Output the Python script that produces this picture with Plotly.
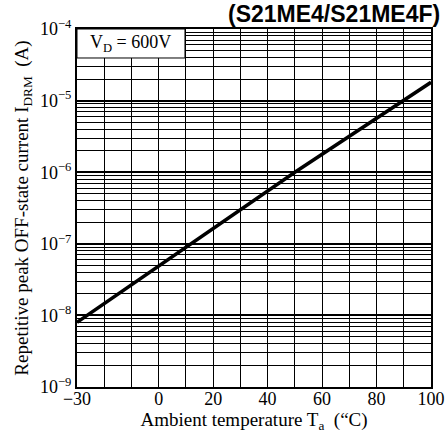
import plotly.graph_objects as go

temps = [-30, 50, 100]
i_drm = [8e-9, 1.0e-6, 1.8e-5]

x_ticks = [-30, 0, 20, 40, 60, 80, 100]
x_ticktext = ["\u221230", "0", "20", "40", "60", "80", "100"]
y_ticks = [1e-9, 1e-8, 1e-7, 1e-6, 1e-5, 1e-4]
y_ticktext = ["10<sup>\u22129</sup>", "10<sup>\u22128</sup>", "10<sup>\u22127</sup>",
              "10<sup>\u22126</sup>", "10<sup>\u22125</sup>", "10<sup>\u22124</sup>"]

serif = "Liberation Serif, DejaVu Serif, serif"

fig = go.Figure()
fig.add_trace(go.Scatter(x=temps, y=i_drm, mode="lines",
                         line=dict(color="black", width=3.5), showlegend=False))

fig.update_layout(
    width=445, height=435,
    margin=dict(l=77, r=14, t=29, b=48, autoexpand=False),
    paper_bgcolor="white", plot_bgcolor="white",
    font=dict(family=serif, color="black", size=17),
    xaxis=dict(range=[-30, 100], tickvals=x_ticks, ticktext=x_ticktext,
               showgrid=True, gridcolor="black", gridwidth=1, automargin=False,
               minor=dict(tick0=-30, dtick=10, showgrid=True, gridcolor="black", gridwidth=1),
               showline=True, linecolor="black", linewidth=2, mirror=True,
               ticks="", zeroline=False, ticklabelstandoff=-6,
               title=dict(text="Ambient temperature T<sub>a</sub>  (\u201cC)", font=dict(size=19), standoff=2),
               tickfont=dict(size=18)),
    yaxis=dict(type="log", range=[-9, -4], tickvals=y_ticks, ticktext=y_ticktext,
               showgrid=True, gridcolor="black", gridwidth=1.5, automargin=False,
               minor=dict(dtick="D1", showgrid=True, gridcolor="black", gridwidth=1),
               showline=True, linecolor="black", linewidth=2, mirror=True,
               ticks="", zeroline=False,
               title=dict(text="Repetitive peak OFF-state current I<sub>DRM</sub>  (A)", font=dict(size=19), standoff=6),
               tickfont=dict(size=18)),
)

fig.add_shape(type="rect", xref="paper", yref="paper", x0=0, x1=0.305, y0=0.919, y1=1,
              fillcolor="white", line=dict(color="black", width=1), layer="above")
fig.add_annotation(xref="paper", yref="paper", x=0.152, y=0.96, xanchor="center", yanchor="middle",
                   text="V<sub>D</sub> = 600V",
                   showarrow=False, font=dict(size=18, family=serif))
fig.add_annotation(xref="paper", yref="paper", x=1.03, y=1.0, xanchor="right", yanchor="bottom",
                   text="<b>(S21ME4/S21ME4F)</b>", showarrow=False,
                   font=dict(size=23, family="Liberation Sans, Arial, sans-serif"))

fig.write_html("out.html")
